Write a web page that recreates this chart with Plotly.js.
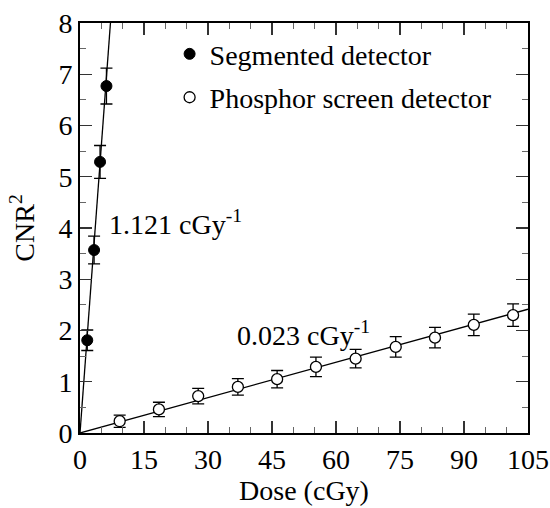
<!DOCTYPE html>
<html>
<head>
<meta charset="utf-8">
<script src="https://cdn.plot.ly/plotly-3.0.1.min.js"></script>
<style>html,body{margin:0;padding:0;background:#fff;}#chart{width:550px;height:508px;}</style>
</head>
<body>
<div id="chart"></div>
<script>
// Segmented detector
const segDose = [1.7, 3.3, 4.7, 6.2];
const segCNR2 = [1.81, 3.57, 5.29, 6.77];
const segErr  = [0.20, 0.27, 0.32, 0.35];
const segSlope = 1.121;

// Phosphor screen detector
const phDose = [9.3, 18.5, 27.7, 37.0, 46.2, 55.3, 64.6, 74.0, 83.2, 92.3, 101.5];
const phCNR2 = [0.23, 0.46, 0.72, 0.90, 1.05, 1.29, 1.45, 1.68, 1.86, 2.11, 2.30];
const phErr  = [0.12, 0.14, 0.15, 0.16, 0.17, 0.19, 0.18, 0.20, 0.20, 0.21, 0.22];
const phSlope = 0.023;

const xTicks = [0, 15, 30, 45, 60, 75, 90, 105];
const yTicks = [0, 1, 2, 3, 4, 5, 6, 7, 8];

const segFitX = [0, 8 / segSlope];
const segFitY = segFitX.map(x => segSlope * x);
const phFitX = [0, 105];
const phFitY = phFitX.map(x => phSlope * x);

const font = {family: 'Liberation Serif, Times New Roman, serif', color: '#000'};
const FS = 28;

const traces = [
  {x: segFitX, y: segFitY, mode: 'lines', line: {color: '#000', width: 1.3}, showlegend: false, hoverinfo: 'skip'},
  {x: phFitX, y: phFitY, mode: 'lines', line: {color: '#000', width: 1.3}, showlegend: false, hoverinfo: 'skip'},
  {x: segDose, y: segCNR2, mode: 'markers', name: 'Segmented detector', legendgroup: 'a',
   marker: {symbol: 'circle', size: 11, color: '#000', line: {color: '#000', width: 1}},
   error_y: {type: 'data', array: segErr, visible: true, color: '#000', thickness: 1.3, width: 6}},
  {x: phDose, y: phCNR2, mode: 'markers', name: 'Phosphor screen detector', legendgroup: 'b',
   marker: {symbol: 'circle', size: 11, color: '#fff', line: {color: '#000', width: 1.3}},
   error_y: {type: 'data', array: phErr, visible: true, color: '#000', thickness: 1.3, width: 6}}
];

const axisCommon = {
  showgrid: false, zeroline: false, showline: true, linecolor: '#000', linewidth: 2,
  mirror: 'ticks', ticks: 'inside', ticklen: 12, tickwidth: 1.2, tickcolor: '#333',
  tickfont: Object.assign({size: FS}, font),
  minor: {ticks: 'inside', ticklen: 6, tickwidth: 1, tickcolor: '#666'}
};

const layout = {
  width: 550, height: 508,
  margin: {l: 80, r: 22, t: 23, b: 75},
  paper_bgcolor: '#fff', plot_bgcolor: '#fff',
  font: font,
  showlegend: true,
  legend: {x: 0.2, y: 0.985, xanchor: 'left', yanchor: 'top', bgcolor: 'rgba(0,0,0,0)',
           font: Object.assign({size: FS}, font), traceorder: 'grouped', tracegroupgap: 4},
  xaxis: Object.assign({}, axisCommon, {
    range: [0, 105], tickmode: 'array', tickvals: xTicks, ticktext: xTicks.map(String),
    minor: Object.assign({}, axisCommon.minor, {dtick: 5, tick0: 0}),
    title: {text: 'Dose (cGy)', font: Object.assign({size: FS}, font), standoff: 6}
  }),
  yaxis: Object.assign({}, axisCommon, {
    range: [0, 8], tickmode: 'array', tickvals: yTicks, ticktext: yTicks.map(String),
    minor: Object.assign({}, axisCommon.minor, {dtick: 0.5, tick0: 0}),
    title: {text: 'CNR<sup>2</sup>', font: Object.assign({size: FS}, font), standoff: 16}
  }),
  annotations: [
    {x: 6.4, y: 4.1, xref: 'x', yref: 'y', text: '1.121 cGy<sup>-1</sup>', showarrow: false,
     xanchor: 'left', yanchor: 'middle', font: Object.assign({size: FS}, font)},
    {x: 36.3, y: 1.95, xref: 'x', yref: 'y', text: '0.023 cGy<sup>-1</sup>', showarrow: false,
     xanchor: 'left', yanchor: 'middle', font: Object.assign({size: FS}, font)}
  ]
};

Plotly.newPlot('chart', traces, layout, {displayModeBar: false, staticPlot: true});
</script>
</body>
</html>
